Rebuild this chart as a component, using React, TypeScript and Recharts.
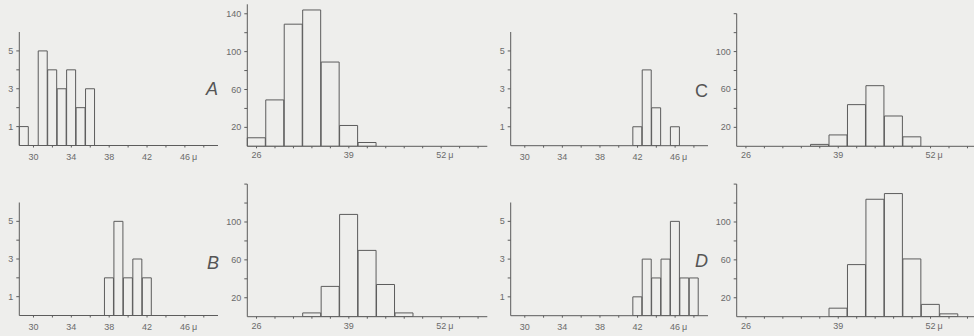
import React from 'react';
import { BarChart, Bar, XAxis, YAxis } from 'recharts';

// small panels: counts per 1 μ class
const smallBins = [29, 30, 31, 32, 33, 34, 35, 36, 37, 38, 39, 40, 41, 42, 43, 44, 45, 46, 47, 48, 49];
const smallA = [1, 0, 5, 4, 3, 4, 2, 3, 0, 0, 0, 0, 0, 0, 0, 0, 0, 0, 0, 0, 0];
const smallB = [0, 0, 0, 0, 0, 0, 0, 0, 0, 2, 5, 2, 3, 2, 0, 0, 0, 0, 0, 0, 0];
const smallC = [0, 0, 0, 0, 0, 0, 0, 0, 0, 0, 0, 0, 0, 1, 4, 2, 0, 1, 0, 0, 0];
const smallD = [0, 0, 0, 0, 0, 0, 0, 0, 0, 0, 0, 0, 0, 1, 3, 2, 3, 5, 2, 2, 0];
const smallXTicks = [30, 32, 34, 36, 38, 40, 42, 44, 46, 48];
const smallXLabels = [30, 34, 38, 42, 46];
const smallYTicks = [1, 2, 3, 4, 5];
const smallYLabels = [1, 3, 5];

// large panels: counts per 2.6 μ class
const largeBins = [26, 28.6, 31.2, 33.8, 36.4, 39, 41.6, 44.2, 46.8, 49.4, 52, 54.6, 57.2];
const largeA = [9, 49, 129, 144, 89, 22, 4, 0, 0, 0, 0, 0, 0];
const largeB = [0, 0, 0, 4, 32, 108, 70, 34, 4, 0, 0, 0, 0];
const largeC = [0, 0, 0, 0, 2, 12, 44, 64, 32, 10, 0, 0, 0];
const largeD = [0, 0, 0, 0, 0, 9, 55, 124, 130, 61, 13, 3, 0];
const largeXLabels = [26, 39, 52];
const largeYTicks = [20, 40, 60, 80, 100, 120, 140];
const largeYLabelsA = [20, 60, 100, 140];
const largeYLabels = [20, 60, 100];

const unit = 'μ';
const letters = ['A', 'B', 'C', 'D'];

const INK = '#5c5c5c';
const TEXT = '#6a6a6a';
const BG = '#eeeeec';
const FONT = '"Liberation Sans", Arial, sans-serif';

const toRows = (bins: number[], counts: number[]) =>
  bins.map((bin, i) => ({ bin, count: counts[i] }));

function makeXTick(labels: number[], last: number, dy: number) {
  return (props: any) => {
    const { x, y, payload } = props;
    const v = payload.value;
    if (!labels.includes(v)) return <g />;
    return (
      <g>
        <text x={x} y={y + dy} textAnchor="middle" fontSize={9} fill={TEXT} fontFamily={FONT}>
          {v}
        </text>
        {v === last && (
          <text x={x + 7} y={y + dy} textAnchor="start" fontSize={9} fill={TEXT} fontFamily={FONT}>
            {unit}
          </text>
        )}
      </g>
    );
  };
}

function makeYTick(labels: number[]) {
  return (props: any) => {
    const { x, y, payload } = props;
    if (!labels.includes(payload.value)) return <g />;
    return (
      <text x={x} y={y + 3} textAnchor="end" fontSize={9} fill={TEXT} fontFamily={FONT}>
        {payload.value}
      </text>
    );
  };
}

type PanelProps = {
  left: number;
  top: number;
  width: number;
  height: number;
  mt: number;
  mr: number;
  yWidth: number;
  xHeight: number;
  rows: { bin: number; count: number }[];
  yMax: number;
  yTicks: number[];
  yLabels: number[];
  xTicks: number[];
  xLabels: number[];
  dy: number;
};

function Panel(p: PanelProps) {
  return (
    <div style={{ position: 'absolute', left: p.left, top: p.top }}>
      <BarChart
        width={p.width}
        height={p.height}
        data={p.rows}
        margin={{ top: p.mt, right: p.mr, left: 0, bottom: 0 }}
        barCategoryGap={0}
        barGap={0}
      >
        <XAxis
          dataKey="bin"
          ticks={p.xTicks}
          interval={0}
          height={p.xHeight}
          stroke={INK}
          tickSize={2}
          tickMargin={2}
          tick={makeXTick(p.xLabels, p.xLabels[p.xLabels.length - 1], p.dy)}
        />
        <YAxis
          type="number"
          domain={[0, p.yMax]}
          ticks={p.yTicks}
          interval={0}
          width={p.yWidth}
          stroke={INK}
          tickSize={3}
          tickMargin={3}
          allowDataOverflow
          tick={makeYTick(p.yLabels)}
        />
        <Bar dataKey="count" fill="none" stroke={INK} strokeWidth={1} isAnimationActive={false} />
      </BarChart>
    </div>
  );
}

const letterStyle = (left: number, top: number, italic: boolean): React.CSSProperties => ({
  position: 'absolute',
  left,
  top,
  fontSize: 18,
  lineHeight: '18px',
  fontFamily: FONT,
  fontStyle: italic ? 'italic' : 'normal',
  color: '#555',
});

export default function App() {
  return (
    <div
      style={{
        position: 'absolute',
        left: 0,
        top: 0,
        width: 974,
        height: 336,
        background: BG,
        overflow: 'hidden',
      }}
    >
      {/* small panels */}
      <Panel left={0} top={0} width={230} height={170} mt={32} mr={12} yWidth={19.3} xHeight={24.5}
        rows={toRows(smallBins, smallA)} yMax={6} yTicks={smallYTicks} yLabels={smallYLabels}
        xTicks={smallXTicks} xLabels={smallXLabels} dy={10.5} />
      <Panel left={0} top={170} width={230} height={170} mt={32.5} mr={12} yWidth={19.3} xHeight={24.5}
        rows={toRows(smallBins, smallB)} yMax={6} yTicks={smallYTicks} yLabels={smallYLabels}
        xTicks={smallXTicks} xLabels={smallXLabels} dy={10.5} />
      <Panel left={490} top={0} width={230} height={170} mt={32} mr={12} yWidth={20.7} xHeight={24.3}
        rows={toRows(smallBins, smallC)} yMax={6} yTicks={smallYTicks} yLabels={smallYLabels}
        xTicks={smallXTicks} xLabels={smallXLabels} dy={10.5} />
      <Panel left={490} top={170} width={230} height={170} mt={32.5} mr={12} yWidth={20.7} xHeight={24.3}
        rows={toRows(smallBins, smallD)} yMax={6} yTicks={smallYTicks} yLabels={smallYLabels}
        xTicks={smallXTicks} xLabels={smallXLabels} dy={10.5} />

      {/* large panels */}
      <Panel left={225} top={0} width={265} height={170} mt={4.3} mr={2.7} yWidth={22.3} xHeight={23.7}
        rows={toRows(largeBins, largeA)} yMax={150} yTicks={largeYTicks} yLabels={largeYLabelsA}
        xTicks={largeBins} xLabels={largeXLabels} dy={8} />
      <Panel left={225} top={170} width={265} height={170} mt={14.1} mr={2.7} yWidth={22.3} xHeight={23.3}
        rows={toRows(largeBins, largeB)} yMax={140} yTicks={largeYTicks} yLabels={largeYLabels}
        xTicks={largeBins} xLabels={largeXLabels} dy={8} />
      <Panel left={714} top={0} width={265} height={170} mt={13.7} mr={2.3} yWidth={22.7} xHeight={23.7}
        rows={toRows(largeBins, largeC)} yMax={140} yTicks={largeYTicks} yLabels={largeYLabels}
        xTicks={largeBins} xLabels={largeXLabels} dy={8} />
      <Panel left={714} top={170} width={265} height={170} mt={14.1} mr={2.3} yWidth={22.7} xHeight={23.3}
        rows={toRows(largeBins, largeD)} yMax={140} yTicks={largeYTicks} yLabels={largeYLabels}
        xTicks={largeBins} xLabels={largeXLabels} dy={8} />

      <span style={letterStyle(206, 80, true)}>{letters[0]}</span>
      <span style={letterStyle(207, 254, true)}>{letters[1]}</span>
      <span style={letterStyle(695, 82, false)}>{letters[2]}</span>
      <span style={letterStyle(695, 252, true)}>{letters[3]}</span>
    </div>
  );
}
